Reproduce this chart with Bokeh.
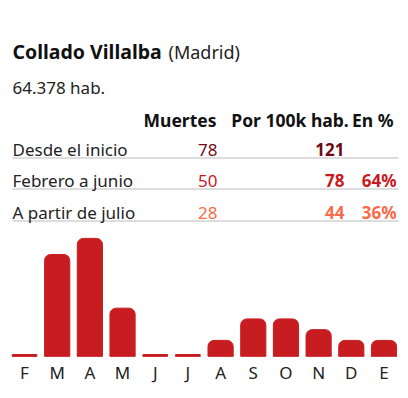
from bokeh.plotting import figure
from bokeh.layouts import column
from bokeh.models import Range1d, FixedTicker, ColumnDataSource
from bokeh.core.properties import value
from bokeh.embed import file_html
from bokeh.resources import INLINE

# ---- data ----
municipio = "Collado Villalba"
provincia = "(Madrid)"
poblacion = "64.378 hab."
headers = ["Muertes", "Por 100k hab.", "En %"]
row_labels = ["Desde el inicio", "Febrero a junio", "A partir de julio"]
muertes = ["78", "50", "28"]
por100k = ["121", "78", "44"]
en_pct = ["", "64%", "36%"]
row_colors = ["#6e0a14", "#c8191f", "#fb6a4a"]

months = ["F", "M", "A", "M", "J", "J", "A", "S", "O", "N", "D", "E"]
deaths = [0, 19, 22, 9, 0, 0, 3, 7, 7, 5, 3, 3]

FONT = "Noto Sans"
BAR = "#c81d20"
W = 408

# ---- top figure: header + table ----
top = figure(width=W, height=225, output_backend="svg", toolbar_location=None,
             x_range=Range1d(0, W), y_range=Range1d(225, 0),
             min_border=0)
top.axis.visible = False
top.grid.visible = False
top.outline_line_color = None

top.text(x=[12], y=[51], text=[municipio], text_font=value(FONT), text_font_size="19.5px",
         text_font_style="bold", text_color="#111111", text_baseline="alphabetic")
top.text(x=[168], y=[51], text=[provincia], text_font=value(FONT), text_font_size="18px",
         text_color="#222222", text_baseline="alphabetic")
top.text(x=[12], y=[87], text=[poblacion], text_font=value(FONT), text_font_size="17px",
         text_color="#222222", text_baseline="alphabetic")

top.text(x=[216, 289.5, 393], y=[119] * 3, text=headers, text_font=value(FONT),
         text_font_size="17.5px", text_font_style="bold", text_color="#111111",
         text_align=["right", "center", "right"], text_baseline="alphabetic")

row_y = [149, 180, 212]
sep_y = [157.5, 188.5, 220.5]
top.segment(x0=[12] * 3, x1=[398] * 3, y0=sep_y, y1=sep_y, line_color="#dddddd", line_width=2)

top.text(x=[12] * 3, y=row_y, text=row_labels, text_font=value(FONT), text_font_size="17px",
         text_color="#222222", text_baseline="alphabetic")
src = ColumnDataSource(dict(y=row_y, m=muertes, p=por100k, e=en_pct, c=row_colors))
top.text(x=217, y="y", text="m", source=src, text_font=value(FONT), text_font_size="17px",
         text_color="c", text_align="right", text_baseline="alphabetic")
top.text(x=344, y="y", text="p", source=src, text_font=value(FONT), text_font_size="17px",
         text_font_style="bold", text_color="c", text_align="right", text_baseline="alphabetic")
top.text(x=396, y="y", text="e", source=src, text_font=value(FONT), text_font_size="17px",
         text_font_style="bold", text_color="c", text_align="right", text_baseline="alphabetic")

# ---- bottom figure: monthly bars ----
idx = list(range(len(months)))
bot = figure(width=W, height=173, output_backend="svg", toolbar_location=None,
             x_range=Range1d(-0.735, len(months) - 0.25), y_range=Range1d(0, 24.4),
             min_border_left=0, min_border_right=0, min_border_top=0, min_border_bottom=42)
bot.outline_line_color = None
bot.grid.visible = False
bot.yaxis.visible = False
bot.vbar(x=idx, top=[0.37] * len(idx), width=0.75, color=BAR)
bot.vbar(x=idx, top=deaths, width=0.77, color=BAR, border_radius=[6, 6, 0, 0])

xa = bot.xaxis[0]
xa.ticker = FixedTicker(ticks=idx)
xa.major_label_overrides = {i: m for i, m in zip(idx, months)}
xa.axis_line_color = None
xa.major_tick_line_color = None
xa.minor_tick_line_color = None
xa.major_tick_out = 0
xa.major_tick_in = 0
xa.major_label_standoff = 4
xa.major_label_text_font = FONT
xa.major_label_text_font_size = "17px"
xa.major_label_text_color = "#222222"

layout = column(top, bot, spacing=0)
open("out.html", "w").write(file_html(layout, INLINE))
